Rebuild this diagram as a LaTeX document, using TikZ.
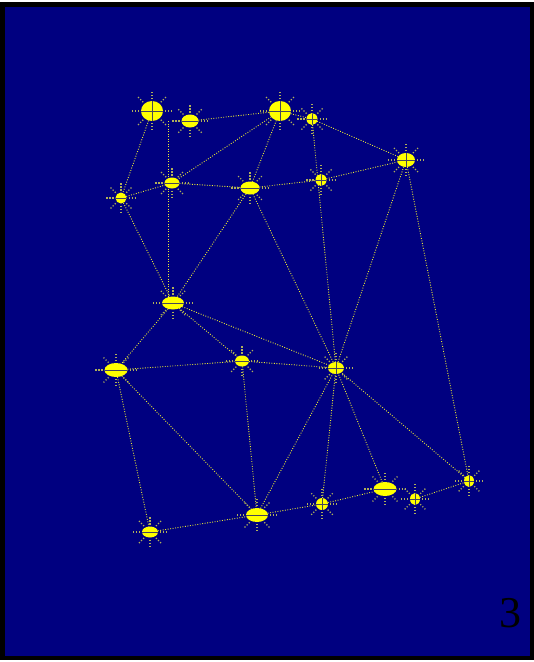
\documentclass[tikz,border=0pt]{standalone}
\usepackage{fontspec}
\newfontfamily\numfont{Liberation Serif}
\usetikzlibrary{shapes.geometric,calc}
\definecolor{navybg}{RGB}{0,0,128}
\definecolor{sunyellow}{RGB}{255,255,0}
\definecolor{barcol}{RGB}{70,70,90}
\definecolor{edgecol}{RGB}{235,235,50}
\definecolor{raycol}{RGB}{175,175,90}
\pgfdeclarelayer{bglayer}
\pgfdeclarelayer{edgelayer}
\pgfsetlayers{bglayer,edgelayer,main}
\begin{document}
\begin{tikzpicture}[x=1pt,y=-1pt,
  sun/.style={ellipse, fill=sunyellow, inner sep=0pt, outer sep=0pt},
  hbar/.style={path picture={\draw[barcol,line width=1pt] (path picture bounding box.west) -- (path picture bounding box.east);}},
  xbar/.style={path picture={\draw[barcol,line width=1pt] (path picture bounding box.west) -- (path picture bounding box.east) (path picture bounding box.north) -- (path picture bounding box.south);}},
  sz/.style 2 args={minimum width=#1pt, minimum height=#2pt},
  link/.style={draw=edgecol, dash pattern=on 0.9pt off 1.6pt, line width=0.9pt},
  ray/.style={draw=raycol, dash pattern=on 1.2pt off 1.8pt, line width=1.3pt}]
\begin{pgfonlayer}{bglayer}
\fill[white] (0,0) rectangle (534,662);
\fill[black] (0,2) rectangle (534,660);
\fill[navybg] (5,7) rectangle (530,656);
\end{pgfonlayer}
\useasboundingbox (0,0) rectangle (534,662);

\node[sun,xbar,sz={22}{20}] (A) at (152,111) {};
\node[sun,hbar,sz={17}{13}] (B) at (190,121) {};
\node[sun,xbar,sz={22}{20}] (C) at (280,111) {};
\node[sun,xbar,sz={11}{12}] (D) at (312,119) {};
\node[sun,xbar,sz={18}{14}] (E) at (406,160) {};
\node[sun,hbar,sz={15}{11}] (F) at (172,183) {};
\node[sun,hbar,sz={19}{13}] (G) at (250,188) {};
\node[sun,xbar,sz={11}{12}] (H) at (321,180) {};
\node[sun,hbar,sz={11}{11}] (I) at (121,198) {};
\node[sun,hbar,sz={22}{13}] (J) at (173,303) {};
\node[sun,hbar,sz={23}{14}] (K) at (116,370) {};
\node[sun,hbar,sz={14}{11}] (L) at (242,361) {};
\node[sun,xbar,sz={16}{12}] (M) at (336,368) {};
\node[sun,hbar,sz={23}{14}] (N) at (385,489) {};
\node[sun,xbar,sz={10}{12}] (O) at (415,499) {};
\node[sun,xbar,sz={10}{12}] (P) at (469,481) {};
\node[sun,xbar,sz={12}{12}] (Q) at (322,504) {};
\node[sun,hbar,sz={22}{14}] (R) at (257,515) {};
\node[sun,hbar,sz={16}{11}] (S) at (150,532) {};

\foreach \n in {A,B,C,D,E,F,G,H,I,J,K,L,M,N,O,P,Q,R,S}
  \foreach \a in {0,45,...,315}
    \draw[ray] ($(\n.\a)+(\a:2pt)$) -- ($(\n.\a)+(\a:9.5pt)$);

\begin{pgfonlayer}{edgelayer}
\draw[link] (B) -- (C);
\draw[link] (A) -- (I);
\draw[link] ([xshift=16pt]A.south) -- ([xshift=-5pt]J.north);
\draw[link] (I) -- (F);
\draw[link] (F) -- (G);
\draw[link] (C) -- (G);
\draw[link] (C) -- (F);
\draw[link] (C) -- (D);
\draw[link] (D) -- (E);
\draw[link] (D) -- (M);
\draw[link] (H) -- (E);
\draw[link] (G) -- (H);
\draw[link] (G) -- (M);
\draw[link] (G) -- (J);
\draw[link] (I) -- (J);
\draw[link] (J) -- (M);
\draw[link] (J) -- (L);
\draw[link] (J) -- (K);
\draw[link] (K) -- (L);
\draw[link] (L) -- (M);
\draw[link] (L) -- (R);
\draw[link] (K) -- (S);
\draw[link] (K) -- (R);
\draw[link] (S) -- (R);
\draw[link] (R) -- (Q);
\draw[link] (Q) -- (N);
\draw[link] (R) -- (M);
\draw[link] (Q) -- (M);
\draw[link] (N) -- (M);
\draw[link] (P) -- (M);
\draw[link] (E) -- (M);
\draw[link] (E) -- (P);
\draw[link] (O) -- (P);
\end{pgfonlayer}

\node[font=\numfont\fontsize{44}{44}\selectfont, inner sep=0pt] (lbl) at (510,613) {3};
\end{tikzpicture}
\end{document}
